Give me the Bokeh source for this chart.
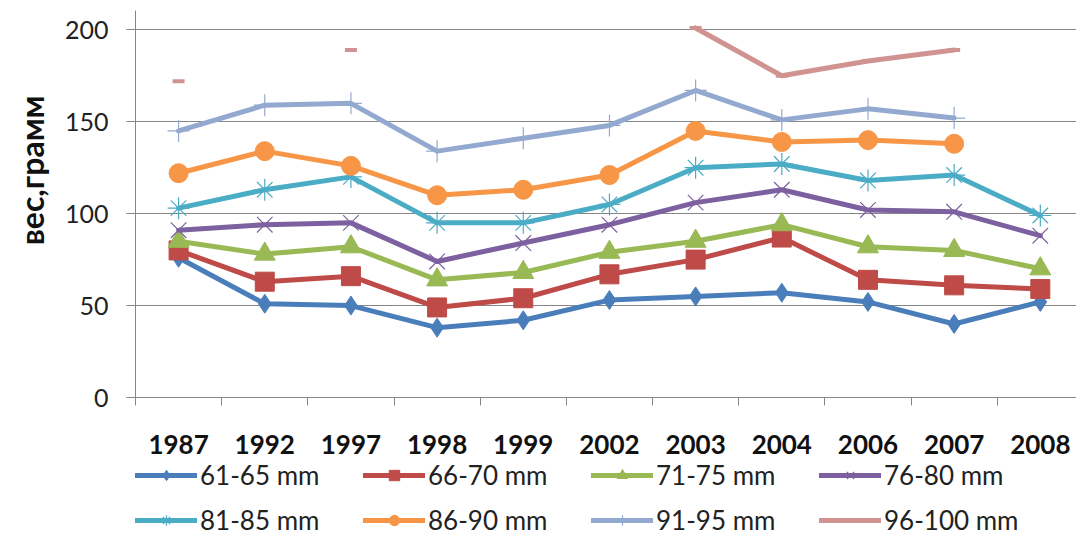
import math
from bokeh.plotting import figure
from bokeh.layouts import column
from bokeh.models import FixedTicker, Legend, LegendItem, Title
from bokeh.embed import file_html
from bokeh.resources import INLINE

nan = float("nan")

years = ["1987", "1992", "1997", "1998", "1999", "2002", "2003", "2004", "2006", "2007", "2008"]
y_ticks = [0, 50, 100, 150, 200]
y_title = "вес,грамм"

names = ["61-65 mm", "66-70 mm", "71-75 mm", "76-80 mm",
         "81-85 mm", "86-90 mm", "91-95 mm", "96-100 mm"]

s61_65 = [76, 51, 50, 38, 42, 53, 55, 57, 52, 40, 52]
s66_70 = [80, 63, 66, 49, 54, 67, 75, 87, 64, 61, 59]
s71_75 = [85, 78, 82, 64, 68, 79, 85, 94, 82, 80, 70]
s76_80 = [91, 94, 95, 74, 84, 94, 106, 113, 102, 101, 88]
s81_85 = [103, 113, 120, 95, 95, 105, 125, 127, 118, 121, 99]
s86_90 = [122, 134, 126, 110, 113, 121, 145, 139, 140, 138, nan]
s91_95 = [145, 159, 160, 134, 141, 148, 167, 151, 157, 152, nan]
s96_100 = [172, nan, 189, nan, nan, nan, 201, 175, 183, 189, nan]

series = [s61_65, s66_70, s71_75, s76_80, s81_85, s86_90, s91_95, s96_100]
colors = ["#4A7EBB", "#BE4B48", "#98B954", "#7D60A0", "#4BACC6", "#F79646", "#93A9CF", "#D19392"]
markers = ["diamond", "square", "triangle", "x", "asterisk", "circle", "cross", "dash"]
msizes = [19, 19, 21, 22, 22, 19, 22, 12]
mline = [1, 1, 1, 1.2, 1.2, 1, 1.2, 4]
mfill = [True, True, True, False, False, True, False, False]

x = list(range(len(years)))

FONT = "Lato"
GRAY = "#868686"


def draw(fig):
    out = []
    for vals, col, mk, ms, mlw, mf in zip(series, colors, markers, msizes, mline, mfill):
        lr = fig.line(x, vals, line_color=col, line_width=5, line_join="round", line_cap="round")
        sr = fig.scatter(x, vals, marker=mk, size=ms, line_color=col, line_width=mlw,
                         fill_color=col if mf else None)
        out.append((lr, sr))
    return out


p = figure(frame_width=941, frame_height=387,
           x_range=(-0.5, 10.42), y_range=(0, 210.5),
           output_backend="svg", toolbar_location=None,
           min_border_left=135, min_border_right=0, min_border_top=10,
           min_border_bottom=62, outline_line_color=None,
           background_fill_color="white", border_fill_color="white")
draw(p)

# axes
p.xgrid.visible = False
p.ygrid.grid_line_color = GRAY
p.ygrid.grid_line_width = 1

p.yaxis.ticker = FixedTicker(ticks=y_ticks)
p.yaxis.axis_line_color = GRAY
p.yaxis.major_tick_line_color = GRAY
p.yaxis.major_tick_out = 9
p.yaxis.major_tick_in = 0
p.yaxis.minor_tick_line_color = None
p.yaxis.major_label_standoff = 18
p.yaxis.major_label_text_font = FONT
p.yaxis.major_label_text_font_size = "25px"
p.yaxis.major_label_text_color = "#222222"

p.xaxis.ticker = FixedTicker(ticks=x, minor_ticks=[i - 0.5 for i in range(len(years) + 1)])
p.xaxis.major_label_overrides = {i: yr for i, yr in zip(x, years)}
p.xaxis.axis_line_color = GRAY
p.xaxis.major_tick_line_color = None
p.xaxis.major_tick_out = 0
p.xaxis.major_tick_in = 0
p.xaxis.minor_tick_line_color = GRAY
p.xaxis.minor_tick_out = 8
p.xaxis.minor_tick_in = 0
p.xaxis.major_label_standoff = 29
p.xaxis.major_label_text_font = FONT
p.xaxis.major_label_text_font_style = "bold"
p.xaxis.major_label_text_font_size = "26px"
p.xaxis.major_label_text_color = "#111111"

title = Title(text=y_title, align="right", vertical_align="middle", offset=85, standoff=19,
              text_font=FONT, text_font_style="bold", text_font_size="32px",
              text_color="#111111")
p.add_layout(title, "left")

# legend strip below the chart
p2 = figure(width=1076, height=75, x_range=(-0.5, 10.42), y_range=(1000, 1001),
            output_backend="svg", toolbar_location=None,
            x_axis_type=None, y_axis_type=None,
            min_border_left=123, min_border_right=0, min_border_top=0, min_border_bottom=0,
            outline_line_color=None, background_fill_color="white", border_fill_color="white")
p2.grid.visible = False
rends = draw(p2)

items = [LegendItem(label=name, renderers=[lr, sr]) for name, (lr, sr) in zip(names, rends)]
legend = Legend(items=items, ncols=4, orientation="horizontal", location="top_left",
                glyph_width=62, glyph_height=26, label_height=26, label_width=150,
                label_standoff=3, spacing=13, padding=0, margin=0,
                border_line_color=None, background_fill_alpha=0,
                label_text_font=FONT, label_text_font_size="26px",
                label_text_color="#222222")
p2.add_layout(legend)

layout = column(p, p2, spacing=0)
open("out.html", "w").write(file_html(layout, INLINE))
